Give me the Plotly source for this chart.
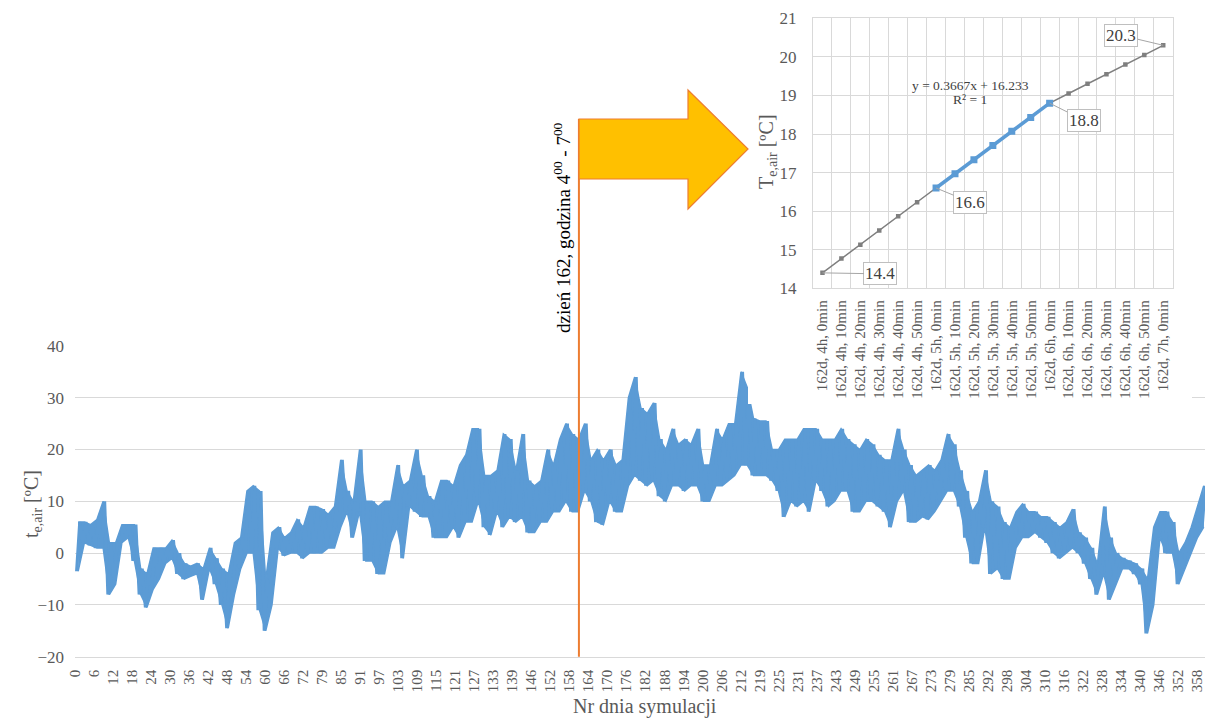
import numpy as np
import plotly.graph_objects as go

# ---------------- data ----------------
# main chart: 2-day blocks (start day), low / high readings of t_e,air [°C]
block_start = list(range(0, 362, 2))
block_low = [
    -3.5, 2, 1.5, 1, 1, -8, -6, 2, 3, -1.5,
    -8, -10.5, -7, -5, -2, -1, -4, -5, -4.5, -4,
    -9, -3, -6, -10, -14.5, -8, -3, 0, 0, -11,
    -15, -10, 1, -0.5, 0, 0, -1, 0, 0, 0,
    1, 1, 5, 8, 3, 8, -1.5, -1.5, -4, -4,
    2, 5, -1, 9, 8, 7, 7, 3, 3, 3,
    5, 3, 6, 6, 10, 5, 3.5, 8, 5, 7,
    6, 7, 4, 4, 6, 6, 8, 8, 10, 8,
    8, 12, 10, 6, 5.5, 10, 8, 8, 13, 15,
    14, 13, 14, 11, 10, 13, 13, 12, 13, 13,
    10, 10, 13, 13, 14, 15, 17, 17, 15, 15,
    15, 14, 12, 7, 10, 9, 10, 8, 14, 12,
    9, 10, 12, 12, 8, 8, 10, 10, 9, 8,
    5, 10, 12, 6, 6, 7, 6.5, 8, 10, 12,
    12, 9, 3, -2, -2, 5, -4, -3, -5, -5,
    1, 3, 3, 4, 3, 2, 0, -1, 0, 1,
    0, -2, -5, -8, -4, -9, -6, -3, -3, -4,
    -6, -15.5, -10, 3, 0, 0, -6, -3, 0, 3,
    5,
]
block_high = [
    6, 6, 5.5, 6.5, 10, 2, 2, 5.5, 5.5, 5.5,
    -3, -4, 1, 1, 1, 2.5, 0, -2, -2.5, -2,
    -3, 1, -1, -3, -4, 2, 3, 12, 13, 12,
    -5, 4, 5, 3, 4, 6.5, 5, 9, 9, 8.5,
    7.5, 9, 18, 12, 10, 20, 10, 10, 9, 10,
    10, 17, 13, 14, 20, 15, 11, 10, 14, 14,
    13, 17, 19, 24, 24, 15, 15, 16, 23, 22,
    16, 23, 14, 13, 14, 20, 17, 22, 25, 23,
    22, 25, 18, 20, 18, 20, 17, 18, 30, 34,
    28, 27, 29, 22, 20, 24, 21, 22, 21, 24,
    17, 17, 24, 22, 25, 25, 35, 32, 26, 25.5,
    25.5, 20, 20, 22, 22, 22, 24, 24, 24, 22,
    22, 22, 24, 22, 21, 20, 22, 21, 19, 18,
    18, 24, 20, 17, 15, 16, 17, 16, 18, 23,
    21, 16, 12, 8, 10, 16, 10, 9, 6, 5,
    8, 9.5, 8, 8, 7, 7, 6, 5, 6, 8.5,
    4, 3, 1, -2, 9, 3, 0, -1, -1.5, -2,
    -3, -5, 5, 8, 8, 6, 0, 2, 5, 9,
    13,
]
day_tick_labels = [0, 6, 12, 18, 24, 30, 36, 42, 48, 54,
                   60, 66, 72, 79, 85, 91, 97, 103, 109, 115,
                   121, 127, 133, 139, 146, 152, 158, 164, 170, 176,
                   182, 188, 194, 200, 206, 212, 219, 225, 231, 237,
                   243, 249, 255, 261, 267, 273, 279, 285, 292, 298,
                   304, 310, 316, 322, 328, 334, 340, 346, 352, 358]
days_in_year = 365
highlight_day = 162
highlight_hour = 4

# inset chart
inset_labels = ["162d, 4h, 0min", "162d, 4h, 10min", "162d, 4h, 20min", "162d, 4h, 30min",
                "162d, 4h, 40min", "162d, 4h, 50min", "162d, 5h, 0min", "162d, 5h, 10min",
                "162d, 5h, 20min", "162d, 5h, 30min", "162d, 5h, 40min", "162d, 5h, 50min",
                "162d, 6h, 0min", "162d, 6h, 10min", "162d, 6h, 20min", "162d, 6h, 30min",
                "162d, 6h, 40min", "162d, 6h, 50min", "162d, 7h, 0min"]
inset_values = [14.4, 14.77, 15.13, 15.5, 15.87, 16.23, 16.6, 16.97, 17.33, 17.7,
                18.07, 18.43, 18.8, 19.05, 19.3, 19.55, 19.8, 20.05, 20.3]
hl_start, hl_end = 6, 12
labelled = [0, 6, 12, 18]

# ---------------- figure ----------------
W, H = 1205, 719
FONT = "Liberation Serif"
GRAY = "#595959"
GRID = "#D9D9D9"
BLUE = "#5B9BD5"
ORANGE = "#ED7D31"


def px(x):
    return x / W


def py(y):
    return 1 - y / H


xs, ys = [], []
for d, lo, hi in zip(block_start, block_low, block_high):
    xs += [d + 0.5, d + 1.5]
    ys += [lo, hi]
centers = [d + 1 for d in block_start]

fig = go.Figure()
# band between the block lows and highs
fig.add_trace(go.Scatter(x=centers, y=block_low, mode="lines", line=dict(color=BLUE, width=1.5),
                         xaxis="x", yaxis="y", hoverinfo="skip"))
fig.add_trace(go.Scatter(x=centers, y=block_high, mode="lines", line=dict(color=BLUE, width=1.5),
                         fill="tonexty", fillcolor=BLUE, xaxis="x", yaxis="y", hoverinfo="skip"))
fig.add_trace(go.Scatter(x=xs, y=ys, mode="lines", line=dict(color=BLUE, width=3),
                         xaxis="x", yaxis="y", hoverinfo="skip"))
# dummy subplot: white background behind the inset (covers main gridlines)
fig.add_trace(go.Scatter(x=[], y=[], xaxis="x2", yaxis="y2"))

idx = list(range(len(inset_values)))
fig.add_trace(go.Scatter(x=idx, y=inset_values, mode="lines+markers",
                         line=dict(color="#7F7F7F", width=1.5),
                         marker=dict(symbol="square", size=4.5, color="#7F7F7F"),
                         xaxis="x3", yaxis="y3"))
fig.add_trace(go.Scatter(x=idx[hl_start:hl_end + 1], y=inset_values[hl_start:hl_end + 1],
                         mode="lines+markers",
                         line=dict(color=BLUE, width=3.5),
                         marker=dict(symbol="square", size=7, color=BLUE),
                         xaxis="x3", yaxis="y3"))

step = days_in_year / len(day_tick_labels)
tickvals = [k * step for k in range(len(day_tick_labels))]
hl_x = (highlight_day - 1) + highlight_hour / 24

main_bottom = py(656.7)
fig.update_layout(
    width=W, height=H, margin=dict(l=0, r=0, t=0, b=0),
    paper_bgcolor="white", plot_bgcolor="white", showlegend=False,
    template="none",
    font=dict(family=FONT, color=GRAY),
    xaxis=dict(domain=[px(75), 1], range=[0, 361.4], tickmode="array",
               tickvals=tickvals, ticktext=[str(v) for v in day_tick_labels],
               tickangle=-90, tickfont=dict(family=FONT, size=15, color=GRAY),
               showgrid=False, zeroline=False, showline=True, linecolor=GRID,
               ticks="", ticklabelstandoff=6, ticklabeloverflow="allow", anchor="y"),
    yaxis=dict(domain=[main_bottom, py(345.7)], range=[-20, 40.05], dtick=10,
               tick0=0, showgrid=True, gridcolor=GRID, gridwidth=1, zeroline=False,
               tickfont=dict(family=FONT, size=17, color=GRAY), ticks="",
               ticklabelstandoff=10, anchor="x"),
    xaxis2=dict(domain=[px(748), px(1192)], visible=False, anchor="y2", range=[0, 1]),
    yaxis2=dict(domain=[py(404), 1], visible=False, anchor="x2", range=[0, 1]),
    xaxis3=dict(domain=[px(813), px(1172.7)], range=[-0.5, len(idx) - 0.5],
                tickmode="array", tickvals=idx, ticktext=inset_labels, tickangle=-90,
                tickfont=dict(family=FONT, size=15, color=GRAY), showgrid=False,
                zeroline=False, showline=True, linecolor=GRID, mirror=True, ticks="",
                ticklabelstandoff=5, anchor="y3",
                minor=dict(tickmode="array", tickvals=[i - 0.5 for i in range(len(idx) + 1)],
                           showgrid=True, gridcolor=GRID, gridwidth=1, ticks="")),
    yaxis3=dict(domain=[py(288.3), py(18.3)], range=[14, 21], dtick=1, tick0=14,
                showgrid=True, gridcolor=GRID, zeroline=False, showline=True,
                linecolor=GRID, mirror=True, ticks="",
                tickfont=dict(family=FONT, size=17, color=GRAY), ticklabelstandoff=12,
                anchor="x3"),
)

# orange marker line at the analysed period
fig.add_shape(type="line", xref="x", yref="paper", x0=hl_x, x1=hl_x,
              y0=main_bottom, y1=py(119), line=dict(color=ORANGE, width=2))
# block arrow
pts = [(579, 119), (688, 119), (688, 90), (748, 149), (688, 209), (688, 179), (579, 179)]
path = "M " + " L ".join(f"{px(a):.5f},{py(b):.5f}" for a, b in pts) + " Z"
fig.add_shape(type="path", xref="paper", yref="paper", path=path,
              fillcolor="#FFC000", line=dict(color=ORANGE, width=1.2))

anns = [
    dict(text="t<sub>e,air</sub> [ºC]", x=px(32), y=py(504), textangle=-90,
         font=dict(size=20, color=GRAY)),
    dict(text="Nr dnia symulacji", x=px(645), y=py(706), font=dict(size=20, color=GRAY)),
    dict(text="T<sub>e,air</sub> [ºC]", x=px(768), y=py(152), textangle=-90,
         font=dict(size=20, color=GRAY)),
    dict(text="dzień 162, godzina 4<sup>00</sup> - 7<sup>00</sup>", x=px(562), y=py(228),
         textangle=-90, font=dict(size=19, color="black")),
    dict(text="y = 0.3667x + 16.233", x=px(970), y=py(85), font=dict(size=13.5, color="#404040")),
    dict(text="R² = 1", x=px(970), y=py(99), font=dict(size=13.5, color="#404040")),
]
for a in anns:
    a.update(xref="paper", yref="paper", showarrow=False, xanchor="center", yanchor="middle")
    a["font"]["family"] = FONT
    fig.add_annotation(**a)

offsets = {0: (58, 1), 6: (34, 14), 12: (34, 17), 18: (-42, -10)}
for i in labelled:
    ax, ay = offsets[i]
    fig.add_annotation(x=idx[i], y=inset_values[i], xref="x3", yref="y3",
                       text=f"{inset_values[i]:.1f}", showarrow=True, arrowhead=0,
                       arrowwidth=1, arrowcolor="#A6A6A6", ax=ax, ay=ay,
                       bgcolor="white", bordercolor="#BFBFBF", borderwidth=1, borderpad=1,
                       font=dict(family=FONT, size=17, color="#404040"))

fig.write_html("out.html", config={"displayModeBar": False},
               post_script="document.body.style.margin='0px';document.body.style.overflow='hidden';")
